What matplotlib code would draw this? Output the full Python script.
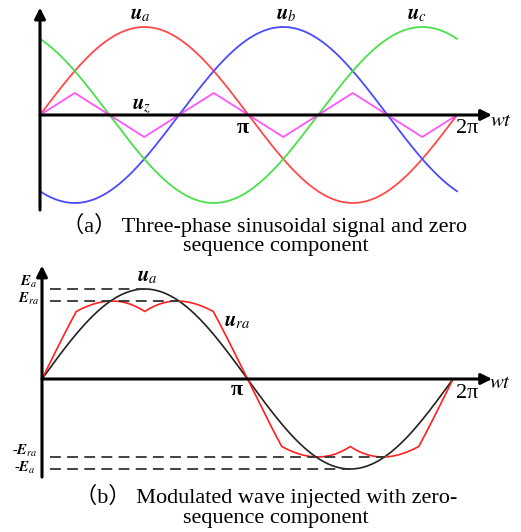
import numpy as np
import matplotlib.pyplot as plt

plt.rcParams["mathtext.fontset"] = "stix"
plt.rcParams["font.family"] = ["Liberation Serif", "DejaVu Serif"]

# three-phase sinusoidal references: amplitude and phase offset in degrees
phase_names = ["a", "b", "c"]
phase_shift_deg = [0, -120, 120]
phase_amp = [1.0, 1.0, 1.0]
phase_colors = ["#ff4a4a", "#4a4aff", "#4ae04a"]

# zero-sequence component (triangle) vertices
uz_deg = [0, 30, 90, 150, 210, 270, 330, 360]
uz_val = [0.0, 0.25, -0.25, 0.25, -0.25, 0.25, -0.25, 0.0]

# peak levels marked in panel (b)
E_a = 1.0
E_ra = 0.866

W, H = 521, 532
fig = plt.figure(figsize=(W / 100, H / 100), dpi=100)

wt = np.linspace(0, 2 * np.pi, 1441)
uz = np.interp(np.degrees(wt), uz_deg, uz_val)


def make_axes(y_top, y_bot, x0, x2pi, y0, unit):
    # axes spanning the full width, limits chosen so that data units map to pixels
    ax = fig.add_axes([0, 1 - y_bot / H, 1, (y_bot - y_top) / H])
    sx = (x2pi - x0) / (2 * np.pi)
    ax.set_xlim(-x0 / sx, (W - x0) / sx)
    ax.set_ylim(-(y_bot - y0) / unit, (y0 - y_top) / unit)
    ax.axis("off")
    return ax


def draw_axes_arrows(ax, x_tip, y_low, y_tip):
    kw = dict(arrowstyle="-|>", lw=2.2, color="black", mutation_scale=16,
              shrinkA=0, shrinkB=0)
    ax.annotate("", xy=(x_tip, 0), xytext=(0, 0), arrowprops=kw, zorder=6,
                annotation_clip=False)
    ax.annotate("", xy=(0, y_tip), xytext=(0, y_low), arrowprops=kw, zorder=6,
                annotation_clip=False)


lab = dict(fontsize=15, ha="center", va="center")
pi_kw = dict(fontsize=16, ha="center", va="center")
cap_kw = dict(ha="center", va="center", fontsize=16,
              family=["Liberation Serif", "Noto Sans CJK SC"])

# ---- (a) three-phase signals and zero-sequence component
ax1 = make_axes(0, 215, 40, 457, 115, 88)
for name, sh, amp, col in zip(phase_names, phase_shift_deg, phase_amp, phase_colors):
    ax1.plot(wt, amp * np.sin(wt + np.radians(sh)), color=col, lw=1.3)
ax1.plot(wt, uz, color="#ff55ff", lw=1.3)
draw_axes_arrows(ax1, 6.81, -1.08, 1.22)

ax1.text(1.51, 1.14, r"$\mathbfit{u}_a$", **lab)
ax1.text(3.72, 1.14, r"$\mathbfit{u}_b$", **lab)
ax1.text(5.68, 1.14, r"$\mathbfit{u}_c$", **lab)
ax1.text(1.54, 0.10, r"$\mathbfit{u}_z$", **lab)
ax1.text(3.06, -0.15, "π", fontweight="bold", **pi_kw)
ax1.text(6.43, -0.15, "2π", **pi_kw)
ax1.text(6.95, -0.07, r"$wt$", **lab)

fig.text(0.508, 1 - 225 / H, "（a） Three-phase sinusoidal signal and zero", **cap_kw)
fig.text(0.530, 1 - 246 / H, "sequence component", **cap_kw)

# ---- (b) modulated wave with zero-sequence injection
ax2 = make_axes(258, 482, 42, 453, 379, 90)
ua = phase_amp[0] * np.sin(wt + np.radians(phase_shift_deg[0]))
ura = ua + uz
ax2.plot(wt, ua, color="#222222", lw=1.2)
ax2.plot(wt, ura, color="#ff2020", lw=1.2)
draw_axes_arrows(ax2, 6.88, -1.09, 1.26)

dash = dict(color="#333333", lw=1.3, dashes=(6, 3.5))
x_start = 0.12
ax2.plot([x_start, np.pi / 2], [E_a, E_a], **dash)
ax2.plot([x_start, 2 * np.pi / 3], [E_ra, E_ra], **dash)
ax2.plot([x_start, 5 * np.pi / 3], [-E_ra, -E_ra], **dash)
ax2.plot([x_start, 3 * np.pi / 2], [-E_a, -E_a], **dash)

elab = dict(fontsize=10.5, ha="center", va="center")
ax2.text(-0.21, 1.08, r"$\mathbfit{E}_a$", **elab)
ax2.text(-0.21, 0.89, r"$\mathbfit{E}_{ra}$", **elab)
ax2.text(-0.26, -0.80, r"-$\mathbfit{E}_{ra}$", **elab)
ax2.text(-0.26, -0.99, r"-$\mathbfit{E}_a$", **elab)

ax2.text(1.61, 1.14, r"$\mathbfit{u}_a$", **lab)
ax2.text(2.98, 0.64, r"$\mathbfit{u}_{ra}$", **lab)
ax2.text(2.98, -0.12, "π", fontweight="bold", **pi_kw)
ax2.text(6.50, -0.16, "2π", **pi_kw)
ax2.text(7.0, -0.05, r"$wt$", **lab)

fig.text(0.510, 1 - 496 / H, "（b） Modulated wave injected with zero-", **cap_kw)
fig.text(0.530, 1 - 518 / H, "sequence component", **cap_kw)

fig.savefig("out.png", dpi=100)
